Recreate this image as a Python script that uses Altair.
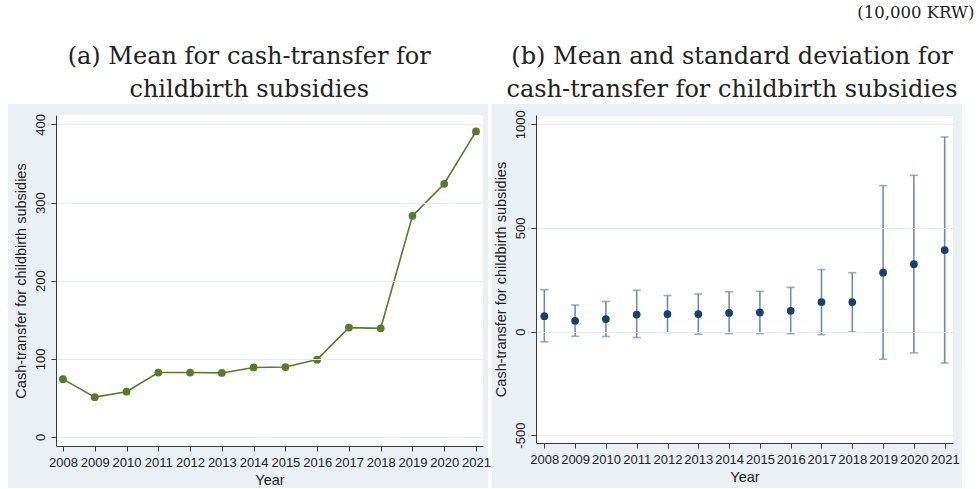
import altair as alt
import pandas as pd

years = list(range(2008, 2022))
# Panel (a): mean cash-transfer (10,000 KRW)
mean_a = [74, 51, 58, 82.5, 82.5, 82, 89, 89.5, 99, 140, 139, 283, 324, 391]
# Panel (b): mean and mean ± SD bounds
mean_b = [74, 52, 60, 82, 84, 84, 90, 92, 100, 142, 142, 284, 325, 393]
upper_b = [202, 128, 145, 199, 174, 181, 192, 194, 213, 299, 284, 704, 754, 939]
lower_b = [-50, -23, -24, -29, -5, -13, -10, -10, -11, -15, -2, -134, -103, -152]

title_a = ["(a) Mean for cash-transfer for", "childbirth subsidies"]
title_b = ["(b) Mean and standard deviation for", "cash-transfer for childbirth subsidies"]
unit_label = "(10,000 KRW)"
y_title = "Cash-transfer for childbirth subsidies"
x_title = "Year"

df_a = pd.DataFrame({"year": years, "mean": mean_a})
df_b = pd.DataFrame({"year": years, "mean": mean_b, "hi": upper_b, "lo": lower_b})
one = alt.Data(values=[{"k": 1}])

PANEL = "#EAF0F3"
GRID = "#E6EEF1"
AXIS = "#3A3A3A"
SANS = "Liberation Sans"
SERIF = "DejaVu Serif"

def x_axis():
    return alt.Axis(values=years, format="d", title=x_title, grid=False,
                    labelFont=SANS, labelFontSize=13, labelColor="#222",
                    titleFont=SANS, titleFontSize=14.5, titleFontWeight="normal",
                    titleColor="#222", labelPadding=5, titlePadding=4,
                    tickSize=5, tickColor=AXIS, domainColor=AXIS,
                    labelOverlap=False, labelFlush=False, zindex=1)

def y_axis(vals):
    return alt.Axis(values=vals, title=y_title, grid=True, gridColor=GRID,
                    gridWidth=1.2, labelAngle=270, labelAlign="center",
                    labelBaseline="bottom", labelExpr="'' + datum.value",
                    labelFont=SANS, labelFontSize=13, labelColor="#222",
                    titleFont=SANS, titleFontSize=14.5, titleFontWeight="normal",
                    titleColor="#222", labelPadding=4, titlePadding=6,
                    tickSize=5, tickColor=AXIS, domainColor=AXIS,
                    labelFlush=False, zindex=1)

def panel_title(lines, dx):
    return alt.TitleParams(text=lines, font=SERIF, fontSize=24, fontWeight="normal",
                           lineHeight=33, anchor="middle", frame="bounds",
                           color="#222", offset=2.5, dx=dx)

# ---------- Panel (a)
WA, HA = 427, 331
bg_a = alt.Chart(one).mark_rect(color=PANEL).encode(
    x=alt.value(-48), x2=alt.value(WA + 5), y=alt.value(-11), y2=alt.value(HA + 42))
wh_a = alt.Chart(one).mark_rect(color="white").encode(
    x=alt.value(0), x2=alt.value(WA), y=alt.value(0), y2=alt.value(HA))
xa = alt.X("year:Q", scale=alt.Scale(domain=[2007.78, 2021.22], nice=False, zero=False), axis=x_axis())
ya = alt.Y("mean:Q", scale=alt.Scale(domain=[-11.5, 412], nice=False, zero=False), axis=y_axis([0, 100, 200, 300, 400]))
line_a = alt.Chart(df_a).mark_line(color="#58792F", strokeWidth=1.6).encode(x=xa, y=ya)
pts_a = alt.Chart(df_a).mark_circle(color="#58792F", size=60, opacity=1).encode(x=xa, y=ya)
panel_a = alt.layer(bg_a, wh_a, line_a, pts_a).properties(
    width=WA, height=HA, title=panel_title(title_a, 0))

# ---------- Panel (b)
WB, HB = 417, 328
bg_b = alt.Chart(one).mark_rect(color=PANEL).encode(
    x=alt.value(-44), x2=alt.value(WB + 9), y=alt.value(-11), y2=alt.value(HB + 45))
wh_b = alt.Chart(one).mark_rect(color="white").encode(
    x=alt.value(0), x2=alt.value(WB), y=alt.value(1), y2=alt.value(HB))
xb = alt.X("year:Q", scale=alt.Scale(domain=[2007.73, 2021.27], nice=False, zero=False), axis=x_axis())
yscale_b = alt.Scale(domain=[-538, 1045], nice=False, zero=False)
EB = "#6F8DAA"
rule_b = alt.Chart(df_b).mark_rule(color=EB, strokeWidth=1.6).encode(
    x=xb, y=alt.Y("lo:Q", scale=yscale_b, axis=y_axis([-500, 0, 500, 1000])), y2="hi:Q")
cap_hi = alt.Chart(df_b).mark_tick(color=EB, orient="horizontal", size=8, thickness=1.6).encode(
    x=xb, y=alt.Y("hi:Q", scale=yscale_b))
cap_lo = alt.Chart(df_b).mark_tick(color=EB, orient="horizontal", size=8, thickness=1.6).encode(
    x=xb, y=alt.Y("lo:Q", scale=yscale_b))
pts_b = alt.Chart(df_b).mark_circle(color="#1B3F66", size=60, opacity=1).encode(
    x=xb, y=alt.Y("mean:Q", scale=yscale_b))
panel_b = alt.layer(bg_b, wh_b, rule_b, cap_hi, cap_lo, pts_b).properties(
    width=WB, height=HB, title=panel_title(title_b, 5))

chart = alt.hconcat(panel_a, panel_b, spacing=0).properties(
    title=alt.TitleParams(unit_label, font=SERIF, fontSize=16.5, fontWeight="normal",
                          anchor="end", color="#222", dx=12, offset=22.5),
    padding={"left": 7, "top": 5, "right": 0, "bottom": 0},
).configure_view(stroke=None).configure(background="white")

chart.save("out.html", embed_options={"renderer": "svg", "actions": False})
